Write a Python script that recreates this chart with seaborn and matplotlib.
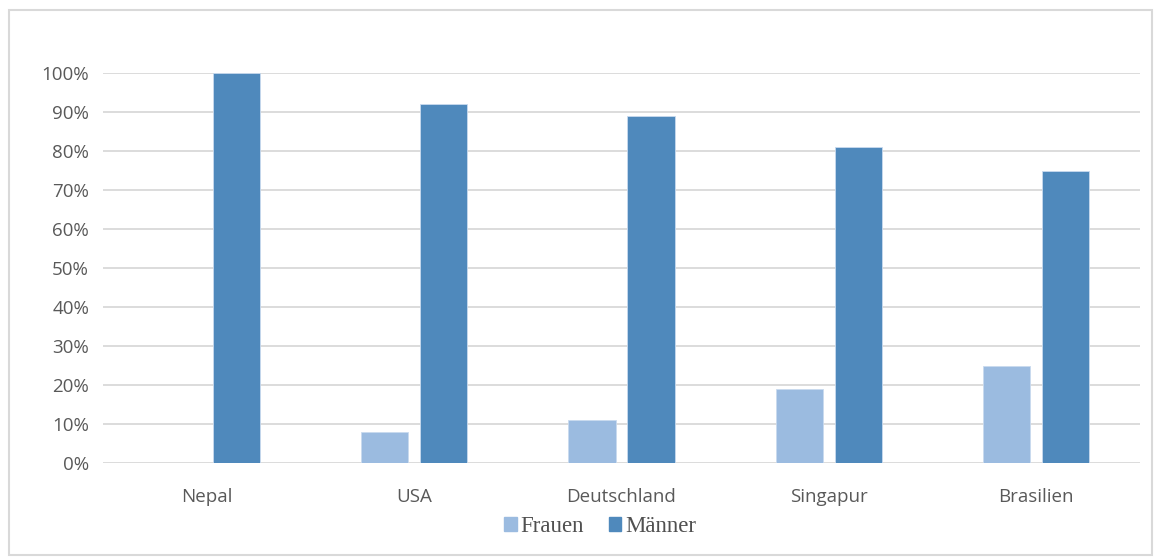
import numpy as np
import pandas as pd
import seaborn as sns
import matplotlib.pyplot as plt
from matplotlib.patches import Rectangle

countries = ["Nepal", "USA", "Deutschland", "Singapur", "Brasilien"]
frauen = [0, 8, 11, 19, 25]
maenner = [100, 92, 89, 81, 75]
series_names = ["Frauen", "Männer"]
colors = ["#9BBBE0", "#4F89BC"]

df = pd.DataFrame({
    "Land": countries * 2,
    "Anteil": frauen + maenner,
    "Geschlecht": [series_names[0]] * len(countries) + [series_names[1]] * len(countries),
})

sns.set_theme(style="white")
plt.rcParams['font.family'] = ['Open Sans', 'DejaVu Sans']

fig = plt.figure(figsize=(11.62, 5.58), dpi=100)
ax = fig.add_axes([103 / 1162, 1 - 463 / 558, 1037 / 1162, 390 / 558])

sns.barplot(data=df, x="Land", y="Anteil", hue="Geschlecht", palette=colors,
            width=0.57, gap=0.2, ax=ax, saturation=1, legend=False,
            edgecolor="#C9DAEE", linewidth=0.6)

ax.set_ylim(0, 100)
ax.set_xlim(-0.5, 4.5)
ax.set_yticks(np.arange(0, 101, 10))
ax.set_yticklabels([f"{v}%" for v in range(0, 101, 10)])
ax.yaxis.grid(True, color="#D9D9D9", linewidth=1.3)
ax.set_axisbelow(True)
for s in ax.spines.values():
    s.set_visible(False)
ax.tick_params(axis="both", length=0, labelsize=13.5, labelcolor="#595959")
ax.tick_params(axis="y", pad=10)
ax.tick_params(axis="x", pad=18)
ax.set_xlabel("")
ax.set_ylabel("")

handles = [Rectangle((0, 0), 1, 1, color=c) for c in colors]
fig.legend(handles, series_names, loc="center", bbox_to_anchor=(600 / 1162, 1 - 527 / 558),
           ncol=2, frameon=False, prop={"family": "Liberation Serif", "size": 16.5},
           labelcolor="#505050", handlelength=0.55, handleheight=0.55, handletextpad=0.15,
           columnspacing=1.1)

fig.patches.append(Rectangle((9 / 1162, 1 - 555 / 558), 1143 / 1162, 545 / 558,
                             transform=fig.transFigure, fill=False, edgecolor="#D9D9D9",
                             linewidth=1.5))

fig.savefig("out.png", dpi=100)
